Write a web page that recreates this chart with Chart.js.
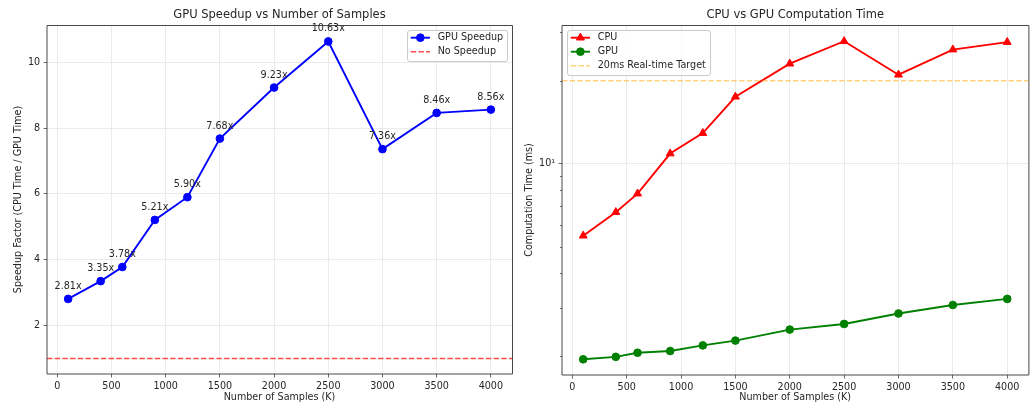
<!DOCTYPE html>
<html>
<head>
<meta charset="utf-8">
<title>GPU vs CPU benchmark</title>
<script src="https://cdn.jsdelivr.net/npm/chart.js@4.4.1/dist/chart.umd.min.js"></script>
<style>
  html, body { margin: 0; padding: 0; background: #ffffff; }
  #wrap { position: relative; width: 1034px; height: 407px; overflow: hidden; }
  canvas { position: absolute; top: 0; }
  #speedupChart { left: 0; }
  #timeChart { left: 517px; }
</style>
</head>
<body>
<div id="wrap">
  <canvas id="speedupChart" width="517" height="407"></canvas>
  <canvas id="timeChart" width="517" height="407"></canvas>
</div>
<script>
// Benchmark results: sample count (thousands) against timings
const samplesK = [100, 400, 600, 900, 1200, 1500, 2000, 2500, 3000, 3500, 4000];
const speedup  = [2.81, 3.35, 3.78, 5.21, 5.90, 7.68, 9.23, 10.63, 7.36, 8.46, 8.56];
const cpuMs    = [5.48, 6.67, 7.79, 10.89, 12.92, 17.51, 23.08, 27.85, 21.05, 25.97, 27.65];
const gpuMs    = [1.95, 1.99, 2.06, 2.09, 2.19, 2.28, 2.50, 2.62, 2.86, 3.07, 3.23];

// Tick positions
const sampleTicks  = [0, 500, 1000, 1500, 2000, 2500, 3000, 3500, 4000];
const speedupTicks = [2, 4, 6, 8, 10];
const timeTicks    = [2, 3, 4, 5, 6, 7, 8, 9, 10, 20, 30];
const timeMajorTicks = [10];

// Reference levels
const noSpeedupLevel = 1;
const realtimeTargetMs = 20;

const FONT = '"DejaVu Sans", "Liberation Sans", sans-serif';
const TEXT = '#262626';
const GRID = '#e6e6e6';
const TICK = '#444444';

Chart.defaults.font.family = FONT;
Chart.defaults.font.size = 9.6;
Chart.defaults.color = TEXT;

const toPoints = (xs, ys) => xs.map((x, i) => ({ x: x, y: ys[i] }));

function drawMarker(ctx, style, x, y, color) {
  ctx.save();
  ctx.fillStyle = color;
  ctx.strokeStyle = color;
  ctx.lineWidth = 1;
  ctx.setLineDash([]);
  ctx.beginPath();
  if (style === 'triangle') {
    const r = 4.6;
    ctx.moveTo(x, y - r);
    ctx.lineTo(x + r * Math.sin(2 * Math.PI / 3), y + r * 0.5);
    ctx.lineTo(x - r * Math.sin(2 * Math.PI / 3), y + r * 0.5);
    ctx.closePath();
  } else {
    ctx.arc(x, y, 3.85, 0, Math.PI * 2);
  }
  ctx.fill();
  ctx.stroke();
  ctx.restore();
}

// Axes decoration: reference line, value labels, frame, title, legend, minor ticks
const decoPlugin = {
  id: 'deco',
  afterDatasetsDraw(chart, args, opts) {
    const { ctx, chartArea: a, scales } = chart;
    if (opts.refLine) {
      const r = opts.refLine;
      const y = scales.y.getPixelForValue(r.value);
      ctx.save();
      ctx.strokeStyle = r.color;
      ctx.lineWidth = 1.45;
      ctx.setLineDash([5.4, 2.3]);
      ctx.beginPath();
      ctx.moveTo(a.left, y);
      ctx.lineTo(a.right, y);
      ctx.stroke();
      ctx.restore();
    }
    if (opts.valueLabels) {
      const meta = chart.getDatasetMeta(0);
      const data = chart.data.datasets[0].data;
      ctx.save();
      ctx.font = '9.6px ' + FONT;
      ctx.fillStyle = TEXT;
      ctx.textAlign = 'center';
      ctx.textBaseline = 'middle';
      meta.data.forEach((pt, i) => {
        ctx.fillText(data[i].y.toFixed(2) + 'x', pt.x, pt.y - 12.5);
      });
      ctx.restore();
    }
  },
  afterDraw(chart, args, opts) {
    const { ctx, chartArea: a, scales } = chart;
    ctx.save();
    // minor ticks on a log axis
    if (opts.minorTicks) {
      ctx.strokeStyle = TICK;
      ctx.lineWidth = 0.8;
      opts.minorTicks.forEach(v => {
        const y = Math.round(scales.y.getPixelForValue(v)) + 0.5;
        ctx.beginPath();
        ctx.moveTo(a.left - 2, y);
        ctx.lineTo(a.left, y);
        ctx.stroke();
      });
    }
    // frame
    ctx.strokeStyle = '#333333';
    ctx.lineWidth = 0.9;
    ctx.beginPath();
    ctx.moveTo(a.left, a.top + 0.5); ctx.lineTo(a.right + 0.5, a.top + 0.5);
    ctx.lineTo(a.right + 0.5, a.bottom); ctx.lineTo(a.left, a.bottom);
    ctx.closePath();
    ctx.stroke();
    // title
    ctx.font = '11.5px ' + FONT;
    ctx.fillStyle = TEXT;
    ctx.textAlign = 'center';
    ctx.textBaseline = 'middle';
    ctx.fillText(opts.title, (a.left + a.right) / 2, 15.5);
    // legend
    const items = opts.legend;
    ctx.font = '9.6px ' + FONT;
    const textW = Math.max(...items.map(it => ctx.measureText(it.label).width));
    const w = 3.8 + 19.2 + 7.7 + textW + 3.8;
    const h = 16.7 + 14 * (items.length - 1);
    const x0 = opts.legendSide === 'right' ? a.right - 5 - w : a.left + 5;
    const y0 = a.top + 5;
    ctx.fillStyle = 'rgba(255,255,255,0.8)';
    ctx.strokeStyle = '#cccccc';
    ctx.lineWidth = 1;
    ctx.beginPath();
    ctx.roundRect(Math.round(x0) + 0.5, Math.round(y0) + 0.5, Math.round(w), Math.round(h), 2.5);
    ctx.fill();
    ctx.stroke();
    items.forEach((it, i) => {
      const cy = y0 + 7.7 + 14 * i;
      const hx0 = x0 + 3.8, hx1 = hx0 + 19.2;
      ctx.save();
      ctx.strokeStyle = it.color;
      ctx.lineWidth = it.dash ? 1.45 : 1.9;
      ctx.setLineDash(it.dash || []);
      ctx.beginPath();
      ctx.moveTo(hx0, cy);
      ctx.lineTo(hx1, cy);
      ctx.stroke();
      ctx.restore();
      if (it.marker) drawMarker(ctx, it.marker, (hx0 + hx1) / 2, cy, it.color);
      ctx.fillStyle = TEXT;
      ctx.textAlign = 'left';
      ctx.textBaseline = 'middle';
      ctx.fillText(it.label, hx1 + 7.7, cy);
    });
    ctx.restore();
  }
};

function sampleAxis(height) {
  return {
    type: 'linear',
    min: -95,
    max: 4195,
    afterBuildTicks: s => { s.ticks = sampleTicks.map(v => ({ value: v })); },
    afterFit: s => { s.height = height; },
    ticks: { autoSkip: false, maxRotation: 0, padding: 3.4, color: TEXT, font: { size: 9.6 }, callback: v => String(v) },
    grid: { color: GRID, lineWidth: 0.8, drawTicks: true, tickLength: 3.5, tickColor: TICK, tickWidth: 0.8 },
    border: { display: false },
    title: { display: true, text: 'Number of Samples (K)', color: TEXT, font: { size: 9.6 }, padding: { top: 0, bottom: 4 } }
  };
}

new Chart(document.getElementById('speedupChart'), {
  type: 'line',
  data: {
    datasets: [{
      label: 'GPU Speedup',
      data: toPoints(samplesK, speedup),
      borderColor: '#0000ff',
      backgroundColor: '#0000ff',
      borderWidth: 1.9,
      pointRadius: 3.85,
      pointBorderWidth: 1,
      pointBackgroundColor: '#0000ff',
      pointBorderColor: '#0000ff',
      tension: 0,
      fill: false
    }]
  },
  options: {
    responsive: false,
    animation: false,
    events: [],
    layout: { padding: { top: 25, right: 3, left: 0, bottom: 0 } },
    scales: {
      x: sampleAxis(33),
      y: {
        type: 'linear',
        min: 0.53,
        max: 11.13,
        afterBuildTicks: s => { s.ticks = speedupTicks.map(v => ({ value: v })); },
        afterFit: s => { s.width = 47; },
        ticks: { autoSkip: false, padding: 3.4, color: TEXT, font: { size: 9.6 }, callback: v => String(v) },
        grid: { color: GRID, lineWidth: 0.8, drawTicks: true, tickLength: 3.5, tickColor: TICK, tickWidth: 0.8 },
        border: { display: false },
        title: { display: true, text: 'Speedup Factor (CPU Time / GPU Time)', color: TEXT, font: { size: 9.6 }, padding: { top: 13, bottom: 0 } }
      }
    },
    plugins: {
      legend: { display: false },
      tooltip: { enabled: false },
      deco: {
        title: 'GPU Speedup vs Number of Samples',
        refLine: { value: noSpeedupLevel, color: 'rgba(255,0,0,0.7)' },
        valueLabels: true,
        legendSide: 'right',
        legend: [
          { label: 'GPU Speedup', color: '#0000ff', marker: 'circle' },
          { label: 'No Speedup', color: 'rgba(255,0,0,0.7)', dash: [5.4, 2.3] }
        ]
      }
    }
  },
  plugins: [decoPlugin]
});

new Chart(document.getElementById('timeChart'), {
  type: 'line',
  data: {
    datasets: [{
      label: 'CPU',
      data: toPoints(samplesK, cpuMs),
      borderColor: '#ff0000',
      backgroundColor: '#ff0000',
      borderWidth: 1.9,
      pointStyle: 'triangle',
      pointRadius: 4.6,
      pointBorderWidth: 1,
      pointBackgroundColor: '#ff0000',
      pointBorderColor: '#ff0000',
      tension: 0,
      fill: false
    }, {
      label: 'GPU',
      data: toPoints(samplesK, gpuMs),
      borderColor: '#008000',
      backgroundColor: '#008000',
      borderWidth: 1.9,
      pointRadius: 3.85,
      pointBorderWidth: 1,
      pointBackgroundColor: '#008000',
      pointBorderColor: '#008000',
      tension: 0,
      fill: false
    }]
  },
  options: {
    responsive: false,
    animation: false,
    events: [],
    layout: { padding: { top: 25, right: 5, left: 0, bottom: 0 } },
    scales: {
      x: sampleAxis(32),
      y: {
        type: 'logarithmic',
        min: 1.71,
        max: 31.9,
        afterBuildTicks: s => { s.ticks = timeTicks.map(v => ({ value: v })); },
        afterFit: s => { s.width = 45; },
        ticks: {
          autoSkip: false, padding: 3.4, color: TEXT, font: { size: 9.6 },
          callback: v => (timeMajorTicks.includes(v) ? '10\u00b9' : '')
        },
        grid: {
          color: c => (c.tick && timeMajorTicks.includes(c.tick.value) ? GRID : 'rgba(0,0,0,0)'),
          tickColor: c => (c.tick && timeMajorTicks.includes(c.tick.value) ? TICK : 'rgba(0,0,0,0)'),
          lineWidth: 0.8, drawTicks: true, tickLength: 3.5, tickWidth: 0.8
        },
        border: { display: false },
        title: { display: true, text: 'Computation Time (ms)', color: TEXT, font: { size: 9.6 }, padding: { top: 6.5, bottom: 0 } }
      }
    },
    plugins: {
      legend: { display: false },
      tooltip: { enabled: false },
      deco: {
        title: 'CPU vs GPU Computation Time',
        refLine: { value: realtimeTargetMs, color: 'rgba(255,165,0,0.5)' },
        valueLabels: false,
        minorTicks: timeTicks.filter(v => !timeMajorTicks.includes(v)),
        legendSide: 'left',
        legend: [
          { label: 'CPU', color: '#ff0000', marker: 'triangle' },
          { label: 'GPU', color: '#008000', marker: 'circle' },
          { label: '20ms Real-time Target', color: 'rgba(255,165,0,0.5)', dash: [5.4, 2.3] }
        ]
      }
    }
  },
  plugins: [decoPlugin]
});
</script>
</body>
</html>
